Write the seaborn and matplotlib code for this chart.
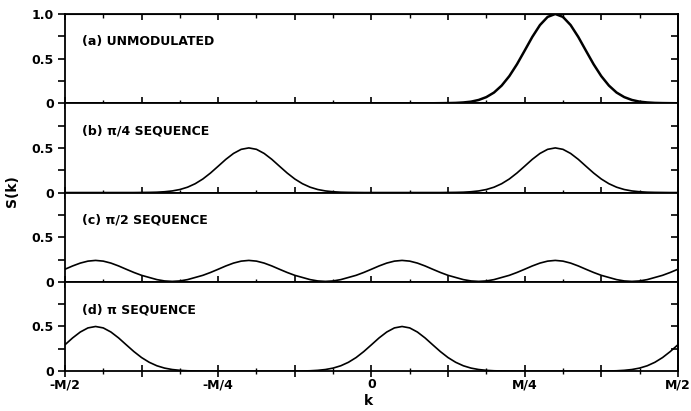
import numpy as np
import pandas as pd
import matplotlib
matplotlib.use("Agg")
import matplotlib.pyplot as plt
import seaborn as sns
from matplotlib.ticker import FixedLocator, FixedFormatter

# ---- data (k in units of M, sampled every M/80) ----
k = np.linspace(-0.5, 0.5, 81)

S_a = [0, 0, 0, 0, 0, 0, 0, 0, 0, 0,
       0, 0, 0, 0, 0, 0, 0, 0, 0, 0,
       0, 0, 0, 0, 0, 0, 0, 0, 0, 0,
       0, 0, 0, 0, 0, 0, 0, 0, 0, 0,
       0, 0, 0, 0, 0, 0, 0, 0, 0,
       .001, .002, .004, .009, .018, .037, .069, .120, .198, .304, .437, .589,
       .743, .876, .967, 1.0, .967, .876, .743, .589, .437, .304, .198, .120,
       .069, .037, .018, .009, .004, .002, .001, 0]

S_b = [0, 0, 0, 0, 0, 0, 0, 0, 0, 0,
       .001, .002, .004, .009, .018, .034, .060, .099, .152, .219, .295, .372,
       .438, .484, .500, .484, .438, .372, .295, .219, .152, .099, .060, .034,
       .018, .009, .004, .002, .001,
       0, 0, 0, 0, 0, 0, 0, 0, 0, 0, 0,
       .001, .002, .004, .009, .018, .034, .060, .099, .152, .219, .295, .372,
       .438, .484, .500, .484, .438, .372, .295, .219, .152, .099, .060, .034,
       .018, .009, .004, .002, .001,
       0, 0]

S_c = [.141, .178, .210, .232, .240, .232, .210, .178, .141, .105,
       .073, .049, .025, .010, .005, .010, .025, .049, .073, .105,
       .141, .178, .210, .232, .240, .232, .210, .178, .141, .105,
       .073, .049, .025, .010, .005, .010, .025, .049, .073, .105,
       .141, .178, .210, .232, .240, .232, .210, .178, .141, .105,
       .073, .049, .025, .010, .005, .010, .025, .049, .073, .105,
       .141, .178, .210, .232, .240, .232, .210, .178, .141, .105,
       .073, .049, .025, .010, .005, .010, .025, .049, .073, .105,
       .141]

S_d = [.295, .372, .438, .484, .500, .484, .438, .372, .295, .219, .152, .099,
       .060, .034, .018, .009, .004, .002, .001,
       0, 0, 0, 0, 0, 0, 0, 0, 0, 0, 0,
       .001, .002, .004, .009, .018, .034, .060, .099, .152, .219, .295, .372,
       .438, .484, .500, .484, .438, .372, .295, .219, .152, .099, .060, .034,
       .018, .009, .004, .002, .001,
       0, 0, 0, 0, 0, 0, 0, 0, 0, 0, 0,
       .001, .002, .004, .009, .018, .034, .060, .099, .152, .219, .295]

panel_titles = ["(a) UNMODULATED", "(b) \u03c0/4 SEQUENCE",
                "(c) \u03c0/2 SEQUENCE", "(d) \u03c0 SEQUENCE"]
x_tick_pos = [-0.5, -0.25, 0, 0.25, 0.5]
x_tick_labels = ["-M/2", "-M/4", "0", "M/4", "M/2"]

series = [S_a, S_b, S_c, S_d]
frames = []
for i, s in enumerate(series):
    frames.append(pd.DataFrame({"k": k, "S": s, "panel": i}))
df = pd.concat(frames, ignore_index=True)

# ---- style ----
sns.set_style("ticks")
plt.rcParams["font.family"] = ["DejaVu Sans"]
plt.rcParams["font.weight"] = "bold"
plt.rcParams["text.color"] = "black"
plt.rcParams["axes.labelcolor"] = "black"
plt.rcParams["xtick.color"] = "black"
plt.rcParams["ytick.color"] = "black"
plt.rcParams["axes.edgecolor"] = "black"

fig, axes = plt.subplots(4, 1, figsize=(6.91, 4.11), dpi=100, sharex=True)
fig.subplots_adjust(left=0.094, right=0.981, top=0.966, bottom=0.097, hspace=0)

major_x = [-0.5 + 0.125 * j for j in range(9)]
minor_x = [-0.4375 + 0.125 * j for j in range(8)]

for i, ax in enumerate(axes):
    sub = df[df["panel"] == i]
    lw = 1.8 if i == 0 else 1.2
    sns.lineplot(data=sub, x="k", y="S", ax=ax, color="black", linewidth=lw,
                 estimator=None, sort=True)
    ax.set_xlim(-0.5, 0.5)
    ax.set_ylim(0, 1.0)
    ax.set_xlabel("")
    ax.set_ylabel("")
    for sp in ax.spines.values():
        sp.set_visible(True)
        sp.set_linewidth(1.3)
        sp.set_color("black")

    # y ticks (left, outward)
    if i == 0:
        ax.set_yticks([0, 0.5, 1.0])
        ax.set_yticklabels(["0", "0.5", "1.0"])
    else:
        ax.set_yticks([0, 0.5])
        ax.set_yticklabels(["0", "0.5"])
    ax.yaxis.set_minor_locator(FixedLocator([0.25, 0.75]))
    ax.tick_params(axis="y", which="both", direction="out", length=5,
                   width=1.2, labelsize=9, pad=3, colors="black")

    # right ticks inward
    sec = ax.secondary_yaxis("right")
    sec.set_yticks([0.25, 0.5, 0.75])
    sec.set_yticklabels([])
    sec.tick_params(direction="in", length=5, width=1.2, colors="black")
    sec.spines["right"].set_linewidth(1.3)
    sec.spines["right"].set_color("black")

    # x ticks crossing baseline
    ax.xaxis.set_major_locator(FixedLocator(major_x))
    ax.xaxis.set_minor_locator(FixedLocator(minor_x))
    ax.tick_params(axis="x", which="major", direction="inout", length=8,
                   width=1.2, colors="black")
    ax.tick_params(axis="x", which="minor", direction="inout", length=5,
                   width=1.0, colors="black")

    ax.text(0.028, 0.69, panel_titles[i], transform=ax.transAxes,
            fontsize=9, fontweight="bold", va="center", ha="left",
            color="black")

# top ticks on panel (a)
top = axes[0].secondary_xaxis("top")
top.xaxis.set_major_locator(FixedLocator(major_x))
top.xaxis.set_minor_locator(FixedLocator(minor_x))
top.set_xticklabels([])
top.tick_params(which="major", direction="in", length=4, width=1.2, colors="black")
top.tick_params(which="minor", direction="in", length=3, width=1.0, colors="black")

# bottom labels
labels = []
for v in major_x:
    lab = ""
    for p, t in zip(x_tick_pos, x_tick_labels):
        if abs(p - v) < 1e-9:
            lab = t
    labels.append(lab)
axes[-1].xaxis.set_major_formatter(FixedFormatter(labels))
axes[-1].tick_params(axis="x", which="major", labelsize=9, pad=1)

fig.text(0.018, 0.535, "S(k)", rotation=90, fontsize=10, fontweight="bold",
         ha="center", va="center", color="black")
fig.text(0.533, 0.025, "k", fontsize=10, fontweight="bold",
         ha="center", va="center", color="black")

fig.savefig("out.png", dpi=100)
